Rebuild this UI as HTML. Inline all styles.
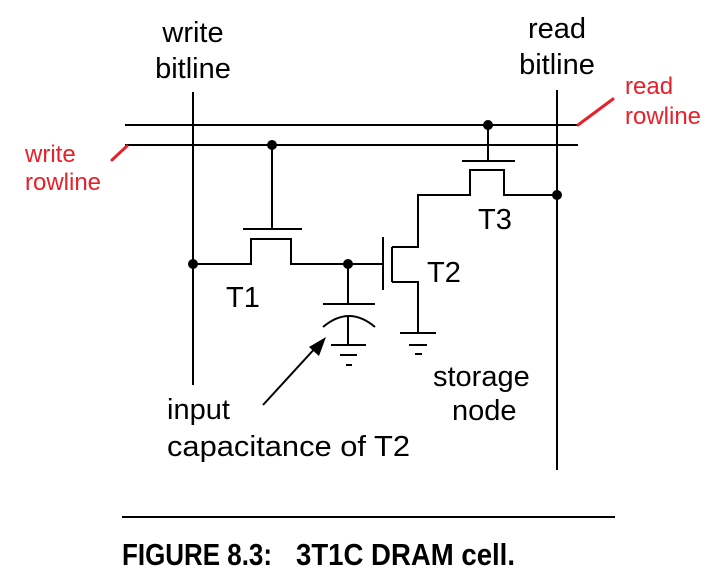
<!DOCTYPE html>
<html><head><meta charset="utf-8"><style>html,body{margin:0;padding:0;background:#fff}svg{display:block}</style></head>
<body>
<svg width="728" height="587" viewBox="0 0 728 587" xmlns="http://www.w3.org/2000/svg">
<g stroke="#000" stroke-width="2" fill="none">
<line x1="125" y1="125" x2="578" y2="125"/>
<line x1="125" y1="145" x2="578" y2="145"/>
<line x1="193" y1="92" x2="193" y2="385"/>
<line x1="557" y1="90" x2="557" y2="470"/>
<line x1="272" y1="145" x2="272" y2="229"/>
<line x1="243" y1="229" x2="302" y2="229"/>
<polyline points="193,264 251,264 251,239 291,239 291,264 383,264"/>
<line x1="383" y1="237" x2="383" y2="290"/>
<polyline points="392,247 392,282"/>
<polyline points="392,247 418,247 418,195 470,195 470,170 504,170 504,195 557,195"/>
<polyline points="392,282 418,282 418,333"/>
<line x1="400" y1="333" x2="436" y2="333"/>
<line x1="409" y1="345" x2="427" y2="345"/>
<line x1="415" y1="354" x2="422" y2="354"/>
<line x1="488" y1="125" x2="488" y2="161"/>
<line x1="462" y1="161" x2="515" y2="161"/>
<line x1="348" y1="264" x2="348" y2="304"/>
<line x1="323" y1="304" x2="375" y2="304"/>
<path d="M323,327 Q349,305 375,327"/>
<line x1="348" y1="316" x2="348" y2="345"/>
<line x1="331" y1="345" x2="366" y2="345"/>
<line x1="340" y1="355" x2="357" y2="355"/>
<line x1="346" y1="365" x2="352" y2="365"/>
<line x1="263" y1="405" x2="318" y2="345"/>
<line x1="122" y1="517" x2="615" y2="517"/>
</g>
<polygon points="326,337 309,347 319,356" fill="#000"/>
<g fill="#000"><circle cx="272" cy="145" r="5"/><circle cx="488" cy="125" r="5"/><circle cx="193" cy="264" r="5"/><circle cx="348" cy="264" r="5"/><circle cx="557" cy="195" r="5"/></g>
<g stroke="#e8202a" stroke-width="3" stroke-linecap="round"><line x1="112" y1="160" x2="127" y2="146"/><line x1="578" y1="125" x2="613" y2="99"/></g>
<g font-family="Liberation Sans, sans-serif" font-size="29" fill="#000" text-anchor="middle">
<text x="193" y="42">write</text><text x="193" y="78">bitline</text>
<text x="557" y="38">read</text><text x="557" y="74">bitline</text>
</g>
<g font-family="Liberation Sans, sans-serif" font-size="29" fill="#000">
<text x="478" y="229">T3</text><text x="427" y="282">T2</text><text x="226" y="307">T1</text>
<text x="433" y="386">storage</text><text x="452" y="420">node</text>
<text x="167" y="419">input</text><text x="167" y="456" textLength="243" lengthAdjust="spacingAndGlyphs">capacitance of T2</text>
</g>
<g font-family="Liberation Sans, sans-serif" font-size="24" fill="#e8202a">
<text x="625" y="94">read</text><text x="625" y="124">rowline</text>
<text x="25" y="162">write</text><text x="25" y="190">rowline</text>
</g>
<g font-family="Liberation Sans Narrow, Liberation Sans, sans-serif" font-weight="bold" font-size="31">
<text x="122" y="565" textLength="150" lengthAdjust="spacingAndGlyphs">FIGURE 8.3:</text>
<text x="296" y="565" textLength="219" lengthAdjust="spacingAndGlyphs">3T1C DRAM cell.</text>
</g>
</svg>
</body></html>
